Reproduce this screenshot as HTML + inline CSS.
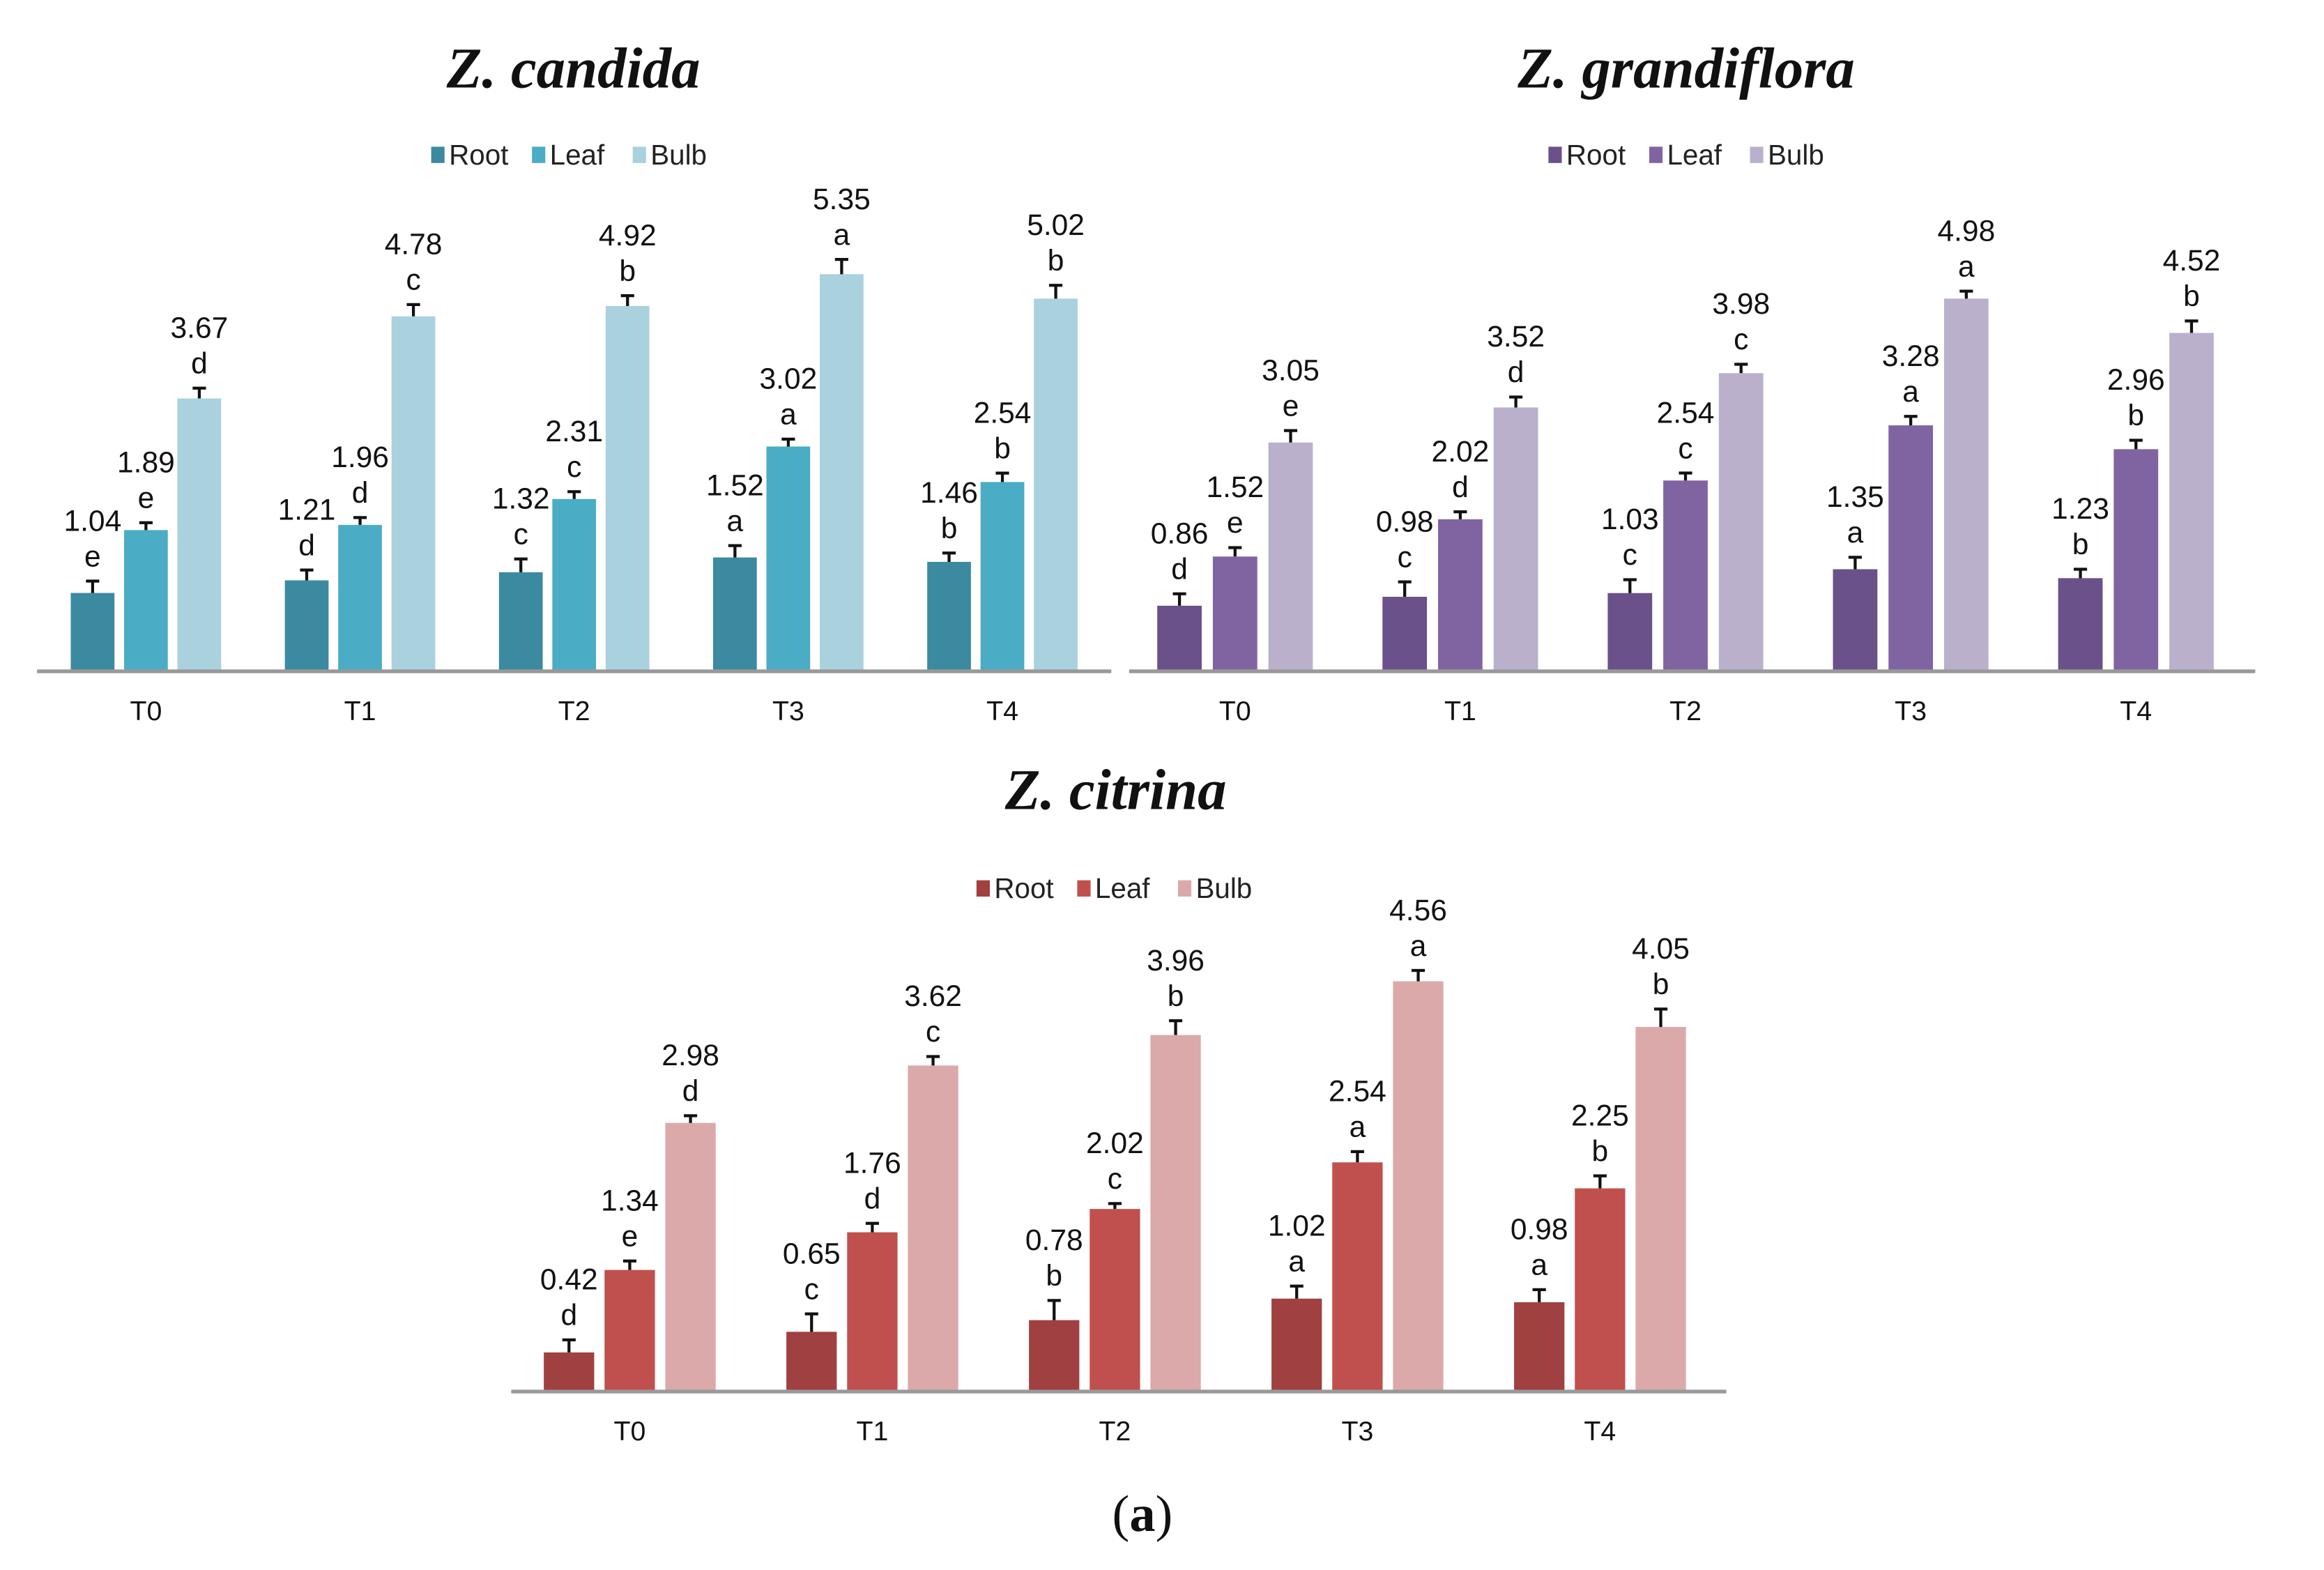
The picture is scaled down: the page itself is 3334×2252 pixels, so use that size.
<!DOCTYPE html>
<html><head><meta charset="utf-8"><style>
html,body{margin:0;padding:0;background:#fff;}
svg{display:block;}
</style></head><body>
<svg id="fig" width="3334" height="2252" viewBox="0 0 1568.4 1059.4" preserveAspectRatio="none" xmlns="http://www.w3.org/2000/svg"></svg>
<script>
const categories = ["T0","T1","T2","T3","T4"];
const seriesNames = ["Root","Leaf","Bulb"];
const candidaRoot = [1.04,1.21,1.32,1.52,1.46];
const candidaLeaf = [1.89,1.96,2.31,3.02,2.54];
const candidaBulb = [3.67,4.78,4.92,5.35,5.02];
const candidaRootSig = ["e","d","c","a","b"];
const candidaLeafSig = ["e","d","c","a","b"];
const candidaBulbSig = ["d","c","b","a","b"];
const candidaRootErr = [0.16,0.14,0.18,0.16,0.12];
const candidaLeafErr = [0.1,0.1,0.1,0.1,0.12];
const candidaBulbErr = [0.14,0.16,0.14,0.2,0.18];
const grandRoot = [0.86,0.98,1.03,1.35,1.23];
const grandLeaf = [1.52,2.02,2.54,3.28,2.96];
const grandBulb = [3.05,3.52,3.98,4.98,4.52];
const grandRootSig = ["d","c","c","a","b"];
const grandLeafSig = ["e","d","c","a","b"];
const grandBulbSig = ["e","d","c","a","b"];
const grandRootErr = [0.16,0.2,0.18,0.16,0.12];
const grandLeafErr = [0.12,0.1,0.1,0.12,0.12];
const grandBulbErr = [0.16,0.14,0.12,0.1,0.16];
const citrinaRoot = [0.42,0.65,0.78,1.02,0.98];
const citrinaLeaf = [1.34,1.76,2.02,2.54,2.25];
const citrinaBulb = [2.98,3.62,3.96,4.56,4.05];
const citrinaRootSig = ["d","c","b","a","a"];
const citrinaLeafSig = ["e","d","c","a","b"];
const citrinaBulbSig = ["d","c","b","a","b"];
const citrinaRootErr = [0.14,0.2,0.22,0.14,0.14];
const citrinaLeafErr = [0.1,0.1,0.06,0.12,0.14];
const citrinaBulbErr = [0.08,0.1,0.16,0.12,0.2];

const NS="http://www.w3.org/2000/svg";
const svg=document.getElementById('fig');
function mk(tag,attrs,parent){const e=document.createElementNS(NS,tag);for(const k in attrs)e.setAttribute(k,attrs[k]);(parent||svg).appendChild(e);return e;}
const FONT='"Liberation Sans", "DejaVu Sans", sans-serif';

const charts=[
 {key:'candida',title:'Z. candida',tx:387,ty:59,ly:105,lx:390,x0:25,x1:750,axisY:452,c0:98.5,step:144.5,bw:29.5,off:36,scale:49.9,labelY:486,
  colors:['#3B8AA0','#4BACC6','#A9D1DE'],data:[candidaRoot,candidaLeaf,candidaBulb],sig:[candidaRootSig,candidaLeafSig,candidaBulbSig],err:[candidaRootErr,candidaLeafErr,candidaBulbErr]},
 {key:'grandiflora',title:'Z. grandiflora',tx:1138,ty:59,ly:105,lx:1144,x0:762,x1:1522,axisY:452,c0:833.5,step:152,bw:30,off:37.5,scale:50.3,labelY:486,
  colors:['#6A5189','#8064A2','#BBB0CC'],data:[grandRoot,grandLeaf,grandBulb],sig:[grandRootSig,grandLeafSig,grandBulbSig],err:[grandRootErr,grandLeafErr,grandBulbErr]},
 {key:'citrina',title:'Z. citrina',tx:753,ty:546,ly:600,lx:758,x0:345,x1:1165,axisY:938,c0:425,step:163.7,bw:34,off:41,scale:60.5,labelY:972,
  colors:['#A04040','#C0504D','#DBA9A9'],data:[citrinaRoot,citrinaLeaf,citrinaBulb],sig:[citrinaRootSig,citrinaLeafSig,citrinaBulbSig],err:[citrinaRootErr,citrinaLeafErr,citrinaBulbErr]}
];

charts.forEach(c=>{
  const g=mk('g',{});
  
  
  const t=mk('text',{x:c.tx,y:c.ty,'text-anchor':'middle','font-family':'"Liberation Serif", serif','font-weight':'bold','font-style':'italic','font-size':39,fill:'#111'},g);
  t.textContent=c.title;
  
  
  const lg=mk('g',{},g);
  
  
  const lw=[68,68,62];let lx=c.lx-99;
  seriesNames.forEach((s,i)=>{
    const it=mk('g',{},lg);
    
    
    mk('rect',{x:lx,y:c.ly-6,width:9,height:11,fill:c.colors[i]},it);
    const tt=mk('text',{x:lx+12,y:c.ly+6,'font-family':FONT,'font-size':19,fill:'#222'},it);
    tt.textContent=s;
    lx+=lw[i];
  });
  const yv=v=>c.axisY-v*c.scale;
  categories.forEach((cat,ci)=>{
    const cx=c.c0+ci*c.step;
    for(let si=0;si<3;si++){
      const v=c.data[si][ci];
      const bx=cx+(si-1)*c.off-c.bw/2;
      const top=yv(v);
      const r=mk('rect',{x:bx,y:top,width:c.bw,height:c.axisY-top,fill:c.colors[si]},g);
      
      
      const et=yv(v+c.err[si][ci]);
      const bc=bx+c.bw/2;
      const eb=mk('path',{d:`M${bc},${top} V${et} M${bc-4.5},${et} H${bc+4.5}`,stroke:'#111','stroke-width':2,fill:'none'},g);
      
      
      const lt=mk('text',{x:bc,y:et-10,'text-anchor':'middle','font-family':FONT,'font-size':20,fill:'#111'},g);
      lt.textContent=c.sig[si][ci];
      
      
      const vt=mk('text',{x:bc,y:et-34,'text-anchor':'middle','font-family':FONT,'font-size':20,fill:'#111'},g);
      vt.textContent=v.toFixed(2);
      
      
    }
    const xl=mk('text',{x:cx,y:c.labelY,'text-anchor':'middle','font-family':FONT,'font-size':18.5,fill:'#111'},g);
    xl.textContent=cat;
    
    
  });
  const ax=mk('line',{x1:c.x0,x2:c.x1,y1:c.axisY+1,y2:c.axisY+1,stroke:'#999','stroke-width':2.5},g);
  
  
});
const cap=mk('text',{x:771,y:1033,'text-anchor':'middle','font-family':'"Liberation Serif", serif','font-size':35,fill:'#111'});
cap.innerHTML='(<tspan font-weight="bold">a</tspan>)';


</script>
</body></html>
